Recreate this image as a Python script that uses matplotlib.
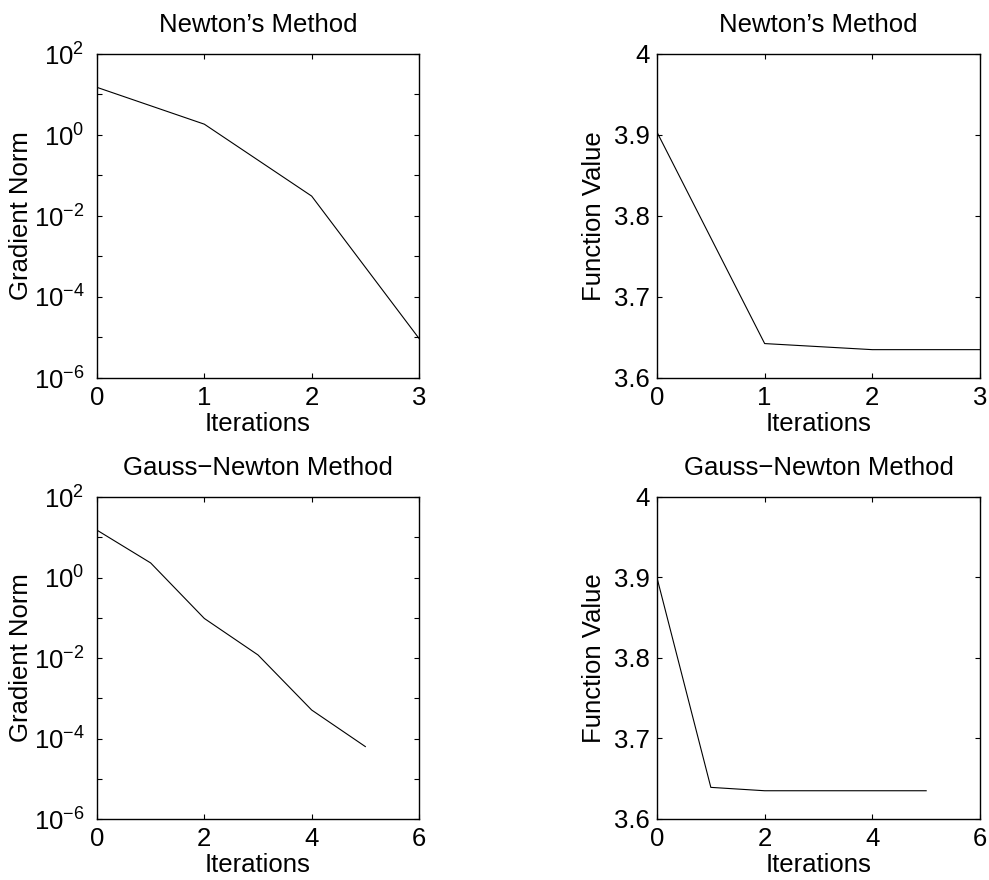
import numpy as np
import matplotlib
matplotlib.use("Agg")
from matplotlib import pyplot as plt
from matplotlib import ticker

plt.rcParams['font.family'] = ['Liberation Sans', 'DejaVu Sans']
plt.rcParams['mathtext.fontset'] = 'custom'
plt.rcParams['mathtext.rm'] = 'Liberation Sans'
plt.rcParams['mathtext.it'] = 'Liberation Sans'
plt.rcParams['mathtext.default'] = 'rm'

# data
newton_iters = [0, 1, 2, 3]
newton_grad = [15.0, 1.85, 0.031, 9.5e-6]
newton_fval = [3.9035, 3.6425, 3.635, 3.635]

gn_iters = [0, 1, 2, 3, 4, 5]
gn_grad = [15.0, 2.3, 0.096, 0.0119, 5.1e-4, 6.3e-5]
gn_fval = [3.8996, 3.6393, 3.6351, 3.6351, 3.6351, 3.6351]

titles = ["Newton\u2019s Method", "Gauss\u2212Newton Method"]
fs = 18.5

fig = plt.figure(figsize=(9.89, 8.8), dpi=100)
W, H = 989.0, 880.0


def make_ax(x0, y0, x1, y1):
    return fig.add_axes([x0 / W, (H - y1) / H, (x1 - x0) / W, (y1 - y0) / H])


def style(ax, ypad):
    ax.tick_params(direction='in', length=3.5, width=0.8, top=True, right=True,
                   labelsize=fs, pad=6)
    ax.tick_params(axis='y', pad=ypad)
    ax.tick_params(which='minor', length=0)
    for s in ax.spines.values():
        s.set_linewidth(1.0)


def log_axis(ax):
    ax.set_yscale('log')
    ax.set_ylim(1e-6, 1e2)
    ax.yaxis.set_major_locator(ticker.FixedLocator([10.0 ** k for k in range(-6, 3)]))
    ax.yaxis.set_minor_locator(ticker.NullLocator())

    def fmt(v, pos):
        e = int(round(np.log10(v)))
        if e % 2:
            return ""
        return r"$10^{%s}$" % (str(e).replace('-', '\u2212'))
    ax.yaxis.set_major_formatter(ticker.FuncFormatter(fmt))
    ax.set_ylabel("Gradient Norm", fontsize=fs)
    ax.yaxis.set_label_coords(-0.2, 0.5)


def fval_axis(ax):
    ax.set_ylim(3.6, 4.0)
    ax.set_yticks([3.6, 3.7, 3.8, 3.9, 4.0])
    ax.set_yticklabels(["3.6", "3.7", "3.8", "3.9", "4"])
    ax.set_ylabel("Function Value", fontsize=fs)
    ax.yaxis.set_label_coords(-0.158, 0.5)


panels = [
    (make_ax(97, 54, 419, 378), newton_iters, newton_grad, 'grad', 0, 3, [0, 1, 2, 3]),
    (make_ax(657, 54, 980, 378), newton_iters, newton_fval, 'fval', 0, 3, [0, 1, 2, 3]),
    (make_ax(97, 497, 419, 819), gn_iters, gn_grad, 'grad', 1, 6, [0, 2, 4, 6]),
    (make_ax(657, 497, 980, 819), gn_iters, gn_fval, 'fval', 1, 6, [0, 2, 4, 6]),
]

for ax, x, y, kind, ti, xmax, xt in panels:
    ax.plot(x, y, color='black', linewidth=0.8)
    if kind == 'grad':
        log_axis(ax)
    else:
        fval_axis(ax)
    ax.set_xlim(0, xmax)
    ax.set_xticks(xt)
    ax.set_xlabel("Iterations", fontsize=fs)
    ax.xaxis.set_label_coords(0.5, -0.105)
    ax.set_title(titles[ti], fontsize=fs, pad=16)
    style(ax, 9 if kind == 'grad' else 5)

fig.savefig("out.png", dpi=100)
